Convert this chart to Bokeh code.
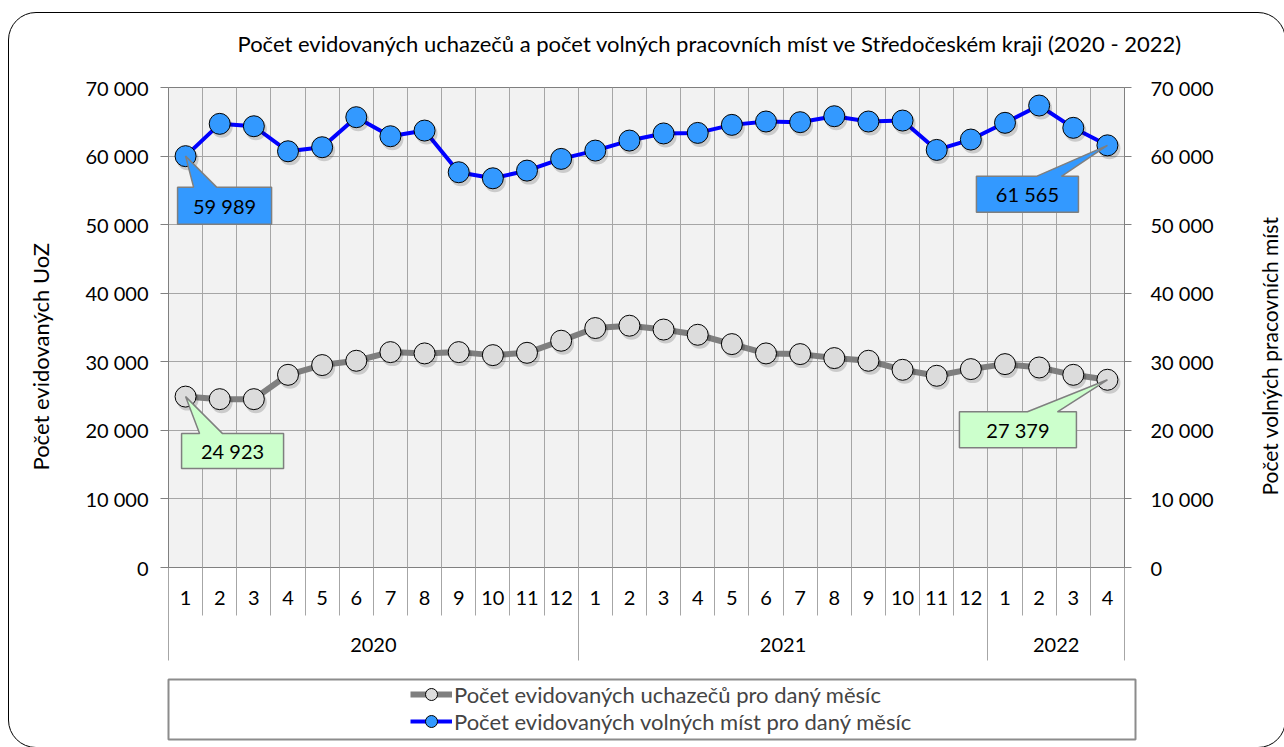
import math
from bokeh.plotting import figure
from bokeh.layouts import column, row
from bokeh.models import (Range1d, LinearAxis, FixedTicker, Grid, Label,
                          Legend, LegendItem, ColumnDataSource)
from bokeh.embed import file_html
from bokeh.resources import INLINE

# ---------------- data ----------------
title_text = "Počet evidovaných uchazečů a počet volných pracovních míst ve Středočeském kraji (2020 - 2022)"
left_title = "Počet evidovaných UoZ"
right_title = "Počet volných pracovních míst"
series_names = ["Počet evidovaných uchazečů pro daný měsíc",
                "Počet evidovaných volných míst pro daný měsíc"]
years = ["2020", "2021", "2022"]
months_per_year = [12, 12, 4]
month_labels = ["1", "2", "3", "4", "5", "6", "7", "8", "9", "10", "11", "12",
                "1", "2", "3", "4", "5", "6", "7", "8", "9", "10", "11", "12",
                "1", "2", "3", "4"]
uchazeci = [24923, 24550, 24550, 28100, 29520, 30150, 31410, 31220, 31410, 30970, 31310, 33070,
            34920, 35260, 34700, 33940, 32580, 31220, 31120, 30540, 30150, 28830, 27960, 28930,
            29660, 29170, 28100, 27379]
volna_mista = [59989, 64700, 64350, 60700, 61290, 65670, 62890, 63720, 57640, 56760, 57880, 59590,
               60800, 62260, 63300, 63380, 64550, 65040, 64940, 65810, 65040, 65180, 60900, 62410,
               64850, 67370, 64120, 61565]
y_ticks = [0, 10000, 20000, 30000, 40000, 50000, 60000, 70000]
y_tick_labels = ["0", "10 000", "20 000", "30 000", "40 000", "50 000", "60 000", "70 000"]

# ---------------- layout constants (page px) ----------------
W = 1284
TOP_H = 72            # title strip
MID_BOTTOM = 678      # chart row ends here
MID_H = MID_BOTTOM - TOP_H
LEG_H = 745 - MID_BOTTOM
LEFT_W, RIGHT_W = 80, 44
MAIN_W = W - LEFT_W - RIGHT_W
FL, FR, FT, FB = 168, 1124, 87, 567   # plot frame in page px
N = len(month_labels)
YMAX = y_ticks[-1]
FONT = "Lato"
FS = "20px"     # numbers
FS_T = "22px"   # words
GRID = "#a6a6a6"
AXIS = "#808080"
ROT_SHIFT = 46  # compensation for rotated label placement in the side strips

XU = N / (FR - FL)      # data units per px (x)
YU = YMAX / (FB - FT)   # data units per px (y)


def strip(w, h, top_border=0):
    f = figure(width=w, height=h, x_range=Range1d(0, w), y_range=Range1d(0, h - top_border),
               x_axis_type=None, y_axis_type=None, toolbar_location=None, output_backend="svg",
               min_border_left=0, min_border_right=0, min_border_top=top_border, min_border_bottom=0,
               outline_line_color=None, background_fill_color="white", border_fill_color="white")
    return f


# ---------------- title strip ----------------
top = strip(W, TOP_H, top_border=61)
top.title.text = title_text
top.title.align = "left"
top.title.offset = 69
top.title.text_font = FONT
top.title.text_font_size = FS_T
top.title.text_font_style = "normal"
top.title.text_color = "black"

# ---------------- side strips (axis titles) ----------------
left = strip(LEFT_W, MID_H)
left.title.visible = False
left.add_layout(Label(x=40, y=MID_H - (366 - TOP_H) - ROT_SHIFT, text=left_title, angle=math.pi / 2,
                      text_align="center", text_baseline="middle", text_font=FONT,
                      text_font_size=FS_T, text_color="black"))
right = strip(RIGHT_W, MID_H)
right.title.visible = False
right.add_layout(Label(x=1269 - (W - RIGHT_W), y=MID_H - (365 - TOP_H) - ROT_SHIFT, text=right_title,
                       angle=math.pi / 2, text_align="center", text_baseline="middle",
                       text_font=FONT, text_font_size="21px", text_color="black"))

# ---------------- main chart ----------------
x = [i + 0.5 for i in range(N)]
src = ColumnDataSource(dict(x=x, u=uchazeci, v=volna_mista,
                            xs=[v + 2 * XU for v in x],
                            us=[v - 3 * YU for v in uchazeci],
                            vs=[v - 3 * YU for v in volna_mista]))

p = figure(width=MAIN_W, height=MID_H, x_range=Range1d(0, N), y_range=Range1d(0, YMAX),
           x_axis_type=None, y_axis_type=None, toolbar_location=None, output_backend="svg",
           min_border_left=FL - LEFT_W, min_border_right=(LEFT_W + MAIN_W) - FR,
           min_border_top=FT - TOP_H, min_border_bottom=MID_BOTTOM - FB,
           background_fill_color="#f2f2f2", border_fill_color="white",
           outline_line_color="#7f7f7f", outline_line_width=1)
p.title.visible = False

p.add_layout(Grid(dimension=0, ticker=FixedTicker(ticks=list(range(N + 1))),
                  grid_line_color=GRID, grid_line_width=1))
p.add_layout(Grid(dimension=1, ticker=FixedTicker(ticks=y_ticks),
                  grid_line_color=GRID, grid_line_width=1))


def yaxis(tick_out, standoff):
    return LinearAxis(ticker=FixedTicker(ticks=y_ticks),
                      major_label_overrides=dict(zip(y_ticks, y_tick_labels)),
                      major_tick_out=tick_out, major_tick_in=0, minor_tick_out=0, minor_tick_in=0,
                      major_label_standoff=standoff, axis_line_color=AXIS,
                      major_tick_line_color=AXIS, major_label_text_font=FONT,
                      major_label_text_font_size=FS, major_label_text_color="black")


p.add_layout(yaxis(8, 12), "left")
p.add_layout(yaxis(7, 19), "right")

# month axis (labels only)
month_axis = LinearAxis(ticker=FixedTicker(ticks=x),
                        major_label_overrides=dict(zip(x, month_labels)),
                        major_tick_out=0, major_tick_in=0, minor_tick_out=0, minor_tick_in=0,
                        axis_line_color=AXIS, major_label_standoff=23,
                        major_label_text_font=FONT, major_label_text_font_size=FS,
                        major_label_text_color="black")
p.add_layout(month_axis, "below")

# year axis (labels + month separators)
bounds = [0]
for m in months_per_year:
    bounds.append(bounds[-1] + m)
centers = [(bounds[i] + bounds[i + 1]) / 2 for i in range(len(years))]
year_axis = LinearAxis(ticker=FixedTicker(ticks=centers, minor_ticks=list(range(N + 1))),
                       major_label_overrides=dict(zip(centers, years)),
                       major_tick_out=0, major_tick_in=0, minor_tick_out=8, minor_tick_in=40,
                       minor_tick_line_color=GRID, axis_line_color=None,
                       major_label_standoff=22, major_label_text_font=FONT,
                       major_label_text_font_size=FS, major_label_text_color="black")
p.add_layout(year_axis, "below")

# year separators
sep_axis = LinearAxis(ticker=FixedTicker(ticks=bounds),
                      major_label_overrides={b: "" for b in bounds},
                      major_tick_out=6, major_tick_in=87, minor_tick_out=0, minor_tick_in=0,
                      major_tick_line_color=GRID, axis_line_color=None,
                      major_label_standoff=0, major_label_text_font_size="0px")
p.add_layout(sep_axis, "below")

# series
gl = p.line("x", "u", source=src, line_color="#7f7f7f", line_width=6, line_join="round")
bl = p.line("x", "v", source=src, line_color="#0000ff", line_width=4, line_join="round")
p.scatter("xs", "us", source=src, size=22, fill_color="black", fill_alpha=0.16, line_color=None)
p.scatter("xs", "vs", source=src, size=22, fill_color="black", fill_alpha=0.16, line_color=None)
gs = p.scatter("x", "u", source=src, size=21, fill_color="#dcdcdc", line_color="black", line_width=1)
bs = p.scatter("x", "v", source=src, size=21, fill_color="#3399ff", line_color="black", line_width=1)

# callouts: (series values, index, fill, box offsets px (L,R,T,B), pointer base offsets px)
callouts = [
    (volna_mista, 0, "#3399ff", (-8, 86, 31, 68), (8, 31)),
    (volna_mista, N - 1, "#3399ff", (-131, -29, 31, 67), (-71, -46)),
    (uchazeci, 0, "#ccffcc", (-4, 98, 37, 72), (14, 37)),
    (uchazeci, N - 1, "#ccffcc", (-148, -31, 32, 68), (-80, -50)),
]
for vals, i, col, (L, R, T, B), (b0, b1) in callouts:
    ax_, ay_ = x[i], vals[i]
    X = lambda o: ax_ + o * XU
    Y = lambda o: ay_ - o * YU
    xs = [X(L), X(b0), ax_, X(b1), X(R), X(R), X(L)]
    ys = [Y(T), Y(T), ay_, Y(T), Y(T), Y(B), Y(B)]
    p.patch(xs, ys, fill_color=col, line_color="#7f7f7f", line_width=1.5)
    p.add_layout(Label(x=X((L + R) / 2), y=Y((T + B) / 2), text=f"{vals[i]:,}".replace(",", " "),
                       text_align="center", text_baseline="middle", text_font=FONT,
                       text_font_size=FS, text_color="black"))

# ---------------- legend strip ----------------
LT, LB, LR = 679, 739, 1135
p2 = figure(width=W, height=LEG_H, x_range=Range1d(0, 1), y_range=Range1d(0, 1),
            x_axis_type=None, y_axis_type=None, toolbar_location=None, output_backend="svg",
            min_border_left=FL, min_border_right=W - LR, min_border_top=LT - MID_BOTTOM,
            min_border_bottom=MID_BOTTOM + LEG_H - LB, background_fill_color="white",
            border_fill_color="white", outline_line_color="#8c8c8c", outline_line_width=2)
p2.title.visible = False
nan = [float("nan")]
lg1 = p2.line(nan, nan, line_color="#7f7f7f", line_width=6)
lg2 = p2.scatter(nan, nan, size=21, fill_color="#dcdcdc", line_color="black", line_width=1)
lb1 = p2.line(nan, nan, line_color="#0000ff", line_width=4)
lb2 = p2.scatter(nan, nan, size=21, fill_color="#3399ff", line_color="black", line_width=1)

row_centers = [694, 721]
GH = 30
for (rl, rs), name, rc in zip([(lg1, lg2), (lb1, lb2)], series_names, row_centers):
    top_y = rc - GH / 2
    vy = LB - top_y - GH
    lgd = Legend(items=[LegendItem(label=name, renderers=[rl, rs])],
                 location=(410 - FL, vy), orientation="vertical", border_line_color=None,
                 background_fill_alpha=0, glyph_width=42, glyph_height=GH, label_height=GH,
                 spacing=0, label_standoff=2, label_text_font=FONT, label_text_font_size=FS_T,
                 padding=0, margin=0)
    p2.add_layout(lgd)

layout = column(top, row(left, p, right, spacing=0), p2, spacing=0)

html = file_html(layout, INLINE)
border_div = ('<div style="position:fixed;left:8px;top:12px;width:1278px;height:736px;'
              'border:1px solid #000;border-radius:28px;box-sizing:border-box;'
              'pointer-events:none;z-index:1000"></div>')
k = html.rfind("</body>")
if k >= 0:
    html = html[:k] + border_div + html[k:]
open("out.html", "w").write(html)
